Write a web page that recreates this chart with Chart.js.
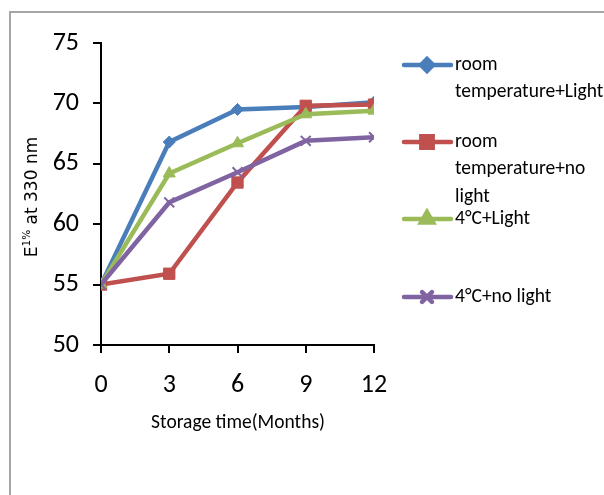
<!DOCTYPE html>
<html>
<head>
<meta charset="utf-8">
<script src="https://cdn.jsdelivr.net/npm/chart.js@4/dist/chart.umd.min.js"></script>
<style>
  html, body { margin: 0; padding: 0; background: #fff; }
  #wrap { position: relative; width: 604px; height: 495px; overflow: hidden; }
  #frame { position: absolute; left: 9px; top: 11px; width: 700px; height: 600px; border: 2px solid #a6a6a6; }
  canvas { position: absolute; left: 0; top: 0; }
</style>
</head>
<body>
<div id="wrap">
  <div id="frame"></div>
  <canvas id="chart" width="604" height="495"></canvas>
</div>
<script>
// storage time in months
const months = [0, 3, 6, 9, 12];

// E1% at 330 nm per storage condition
const roomLight = [55, 66.8, 69.5, 69.7, 70.1];
const roomNoLight = [55, 55.9, 63.45, 69.8, 69.9];
const coldLight = [55, 64.2, 66.7, 69.1, 69.4];
const coldNoLight = [55, 61.8, 64.3, 66.9, 67.2];

const seriesLabels = [
    ['room', 'temperature+Light'],
    ['room', 'temperature+no', 'light'],
    ['4°C+Light'],
    ['4°C+no light']
];
const seriesColors = ['#4a7ebb', '#c0504d', '#9bbb59', '#8064a2'];
const yMin = 50, yMax = 75, yStep = 5;
const xStep = 3;

const calibri = "Carlito, 'Liberation Sans', sans-serif";

function toPoints(values) {
    return months.map((m, i) => ({ x: m, y: values[i] }));
}

const styles = [
    { pointStyle: 'rectRot', pointRadius: 6, pointBorderWidth: 1 },
    { pointStyle: 'rect', pointRadius: 8, pointBorderWidth: 1 },
    { pointStyle: 'triangle', pointRadius: 7, pointBorderWidth: 1 },
    { pointStyle: 'crossRot', pointRadius: 7, pointBorderWidth: 2 }
];

const seriesValues = [roomLight, roomNoLight, coldLight, coldNoLight];

const datasets = seriesValues.map((vals, i) => ({
    label: seriesLabels[i].join(' '),
    data: toPoints(vals),
    borderColor: seriesColors[i],
    backgroundColor: seriesColors[i],
    pointBackgroundColor: seriesColors[i],
    pointBorderColor: seriesColors[i],
    borderWidth: 4.5,
    pointStyle: styles[i].pointStyle,
    pointRadius: styles[i].pointRadius,
    pointBorderWidth: styles[i].pointBorderWidth,
    order: 3 - i,
    tension: 0
}));

// legend on the right, with wrapped labels like the original
const sideLegend = {
    id: 'sideLegend',
    afterDraw(chart) {
        const ctx = chart.ctx;
        const tops = [65, 142, 219, 297];
        ctx.save();
        datasets.forEach((ds, i) => {
            const y = tops[i];
            ctx.strokeStyle = ds.borderColor;
            ctx.lineWidth = 4.5;
            ctx.lineCap = 'round';
            ctx.beginPath();
            ctx.moveTo(404, y);
            ctx.lineTo(451, y);
            ctx.stroke();
            ctx.fillStyle = ds.backgroundColor;
            Chart.helpers.drawPoint(ctx, {
                pointStyle: ds.pointStyle,
                radius: ds.pointRadius,
                borderWidth: ds.pointBorderWidth,
                rotation: 0
            }, 427, y);
            ctx.fillStyle = '#000';
            ctx.font = '19.5px ' + calibri;
            ctx.textBaseline = 'middle';
            ctx.textAlign = 'left';
            seriesLabels[i].forEach((line, k) => {
                ctx.fillText(line, 455, y + k * 27.5);
            });
        });
        ctx.restore();
    }
};

// axis titles (y title needs a superscript)
const axisTitles = {
    id: 'axisTitles',
    afterDraw(chart) {
        const ctx = chart.ctx;
        ctx.save();
        ctx.fillStyle = '#000';
        ctx.font = '19.5px ' + calibri;
        ctx.textAlign = 'center';
        ctx.textBaseline = 'middle';
        ctx.fillText('Storage time(Months)', 238, 423);

        ctx.translate(33, 197);
        ctx.rotate(-Math.PI / 2);
        const big = "17px 'DejaVu Sans', sans-serif";
        const small = "10.5px 'DejaVu Sans', sans-serif";
        const parts = [['E', big, 0], ['1%', small, -6], [' at 330 nm', big, 0]];
        let total = 0;
        parts.forEach(p => { ctx.font = p[1]; total += ctx.measureText(p[0]).width; });
        let x = -total / 2;
        ctx.textAlign = 'left';
        ctx.textBaseline = 'middle';
        parts.forEach(p => {
            ctx.font = p[1];
            ctx.fillText(p[0], x, p[2]);
            x += ctx.measureText(p[0]).width;
        });
        ctx.restore();
    }
};

new Chart(document.getElementById('chart'), {
    type: 'line',
    data: { datasets: datasets },
    options: {
        responsive: false,
        animation: false,
        layout: { padding: { top: 43, right: 230, left: 0, bottom: 0 } },
        plugins: {
            legend: { display: false },
            tooltip: { enabled: false }
        },
        scales: {
            x: {
                type: 'linear',
                min: months[0],
                max: months[months.length - 1],
                afterFit(scale) { scale.height = 150; },
                ticks: {
                    stepSize: xStep,
                    color: '#000',
                    padding: 17,
                    font: { size: 26, family: calibri }
                },
                grid: { drawOnChartArea: false, drawTicks: true, tickLength: 8, color: '#000', lineWidth: 2 },
                border: { color: '#000', width: 2 }
            },
            y: {
                min: yMin,
                max: yMax,
                afterFit(scale) { scale.width = 101; },
                ticks: {
                    stepSize: yStep,
                    color: '#000',
                    padding: 14,
                    font: { size: 26, family: calibri }
                },
                grid: { drawOnChartArea: false, drawTicks: true, tickLength: 8, color: '#000', lineWidth: 2 },
                border: { color: '#000', width: 2 }
            }
        }
    },
    plugins: [sideLegend, axisTitles]
});
</script>
</body>
</html>
